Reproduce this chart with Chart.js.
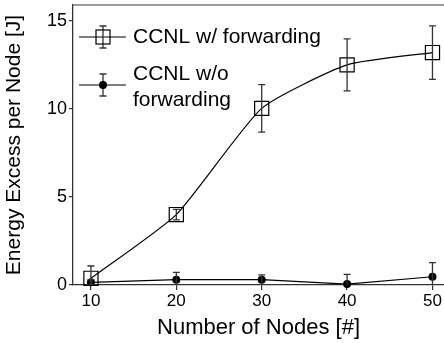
<!DOCTYPE html>
<html>
<head>
<meta charset="utf-8">
<script src="https://cdn.jsdelivr.net/npm/chart.js@4.4.1/dist/chart.umd.min.js"></script>
<style>
html,body{margin:0;padding:0;background:#fff;}
#wrap{width:444px;height:343px;position:relative;}
</style>
</head>
<body>
<div id="wrap"><canvas id="c" width="444" height="343"></canvas></div>
<script>
// ---- data ----
const nodes = [10, 20, 30, 40, 50];
const withFwd = [0.38, 4.0, 10.03, 12.5, 13.2];
const withFwdErr = [0.7, 0.3, 1.35, 1.48, 1.52];
const withoutFwd = [0.15, 0.3, 0.3, 0.05, 0.47];
const withoutFwdErr = [0.15, 0.42, 0.28, 0.55, 0.8];
const xTicks = [10, 20, 30, 40, 50];
const yTicks = [0, 5, 10, 15];
const seriesLabels = ['CCNL w/ forwarding', 'CCNL w/o\nforwarding'];

const FONT = "'Liberation Sans', Arial, sans-serif";

const errorBarPlugin = {
  id: 'errbars',
  afterDatasetsDraw(chart) {
    const ctx = chart.ctx, ys = chart.scales.y, xs = chart.scales.x, a = chart.chartArea;
    ctx.save();
    ctx.beginPath(); ctx.rect(a.left, a.top - 1, a.right - a.left, a.bottom - a.top + 1); ctx.clip();
    chart.data.datasets.forEach(ds => {
      if (!ds.errors) return;
      ctx.strokeStyle = '#333'; ctx.lineWidth = 1.3;
      ds.data.forEach((p, i) => {
        const x = xs.getPixelForValue(p.x);
        const y1 = ys.getPixelForValue(p.y + ds.errors[i]);
        const y2 = ys.getPixelForValue(p.y - ds.errors[i]);
        ctx.beginPath();
        ctx.moveTo(x, y1); ctx.lineTo(x, y2);
        ctx.moveTo(x - 3.5, y1); ctx.lineTo(x + 3.5, y1);
        ctx.moveTo(x - 3.5, y2); ctx.lineTo(x + 3.5, y2);
        ctx.stroke();
      });
    });
    ctx.restore();
  }
};

const frameLegendPlugin = {
  id: 'frameLegend',
  afterDraw(chart) {
    const ctx = chart.ctx, a = chart.chartArea;
    ctx.save();
    ctx.strokeStyle = '#777'; ctx.lineWidth = 1.3;
    ctx.beginPath(); ctx.moveTo(a.left, a.top); ctx.lineTo(a.right, a.top); ctx.stroke();
    const entryY = [a.top + 32, a.top + 80];
    chart.data.datasets.forEach((ds, i) => {
      const yc = entryY[i];
      const x0 = a.left + 6, x1 = a.left + 53, xm = a.left + 30;
      ctx.strokeStyle = '#000'; ctx.lineWidth = 1.2;
      ctx.beginPath(); ctx.moveTo(x0, yc); ctx.lineTo(x1, yc); ctx.stroke();
      ctx.strokeStyle = '#333'; ctx.lineWidth = 1.3;
      ctx.beginPath();
      ctx.moveTo(xm, yc - 11); ctx.lineTo(xm, yc + 11);
      ctx.moveTo(xm - 3.5, yc - 11); ctx.lineTo(xm + 3.5, yc - 11);
      ctx.moveTo(xm - 3.5, yc + 11); ctx.lineTo(xm + 3.5, yc + 11);
      ctx.stroke();
      if (ds.pointStyle === 'rect') {
        ctx.strokeStyle = '#000'; ctx.lineWidth = 1.2;
        ctx.strokeRect(xm - 7, yc - 7, 14, 14);
      } else {
        ctx.fillStyle = '#000';
        ctx.beginPath(); ctx.arc(xm, yc, 4, 0, Math.PI * 2); ctx.fill();
      }
      ctx.fillStyle = '#000';
      ctx.font = '21px ' + FONT;
      ctx.textBaseline = 'middle';
      const lines = ds.label.split('\n');
      lines.forEach((t, k) => {
        const ty = lines.length > 1 ? (a.top + 69 + k * 26) : yc;
        ctx.fillText(t, a.left + 60, ty);
      });
    });
    ctx.restore();
  }
};

new Chart(document.getElementById('c'), {
  type: 'line',
  data: {
    datasets: [
      {
        label: seriesLabels[0],
        data: nodes.map((x, i) => ({ x: x, y: withFwd[i] })),
        errors: withFwdErr,
        borderColor: '#000', borderWidth: 1.2,
        pointStyle: 'rect', pointRadius: 10, pointBorderWidth: 1.2,
        pointBorderColor: '#000', pointBackgroundColor: 'rgba(0,0,0,0)',
        tension: 0.18, fill: false
      },
      {
        label: seriesLabels[1],
        data: nodes.map((x, i) => ({ x: x, y: withoutFwd[i] })),
        errors: withoutFwdErr,
        borderColor: '#000', borderWidth: 1.2,
        pointStyle: 'circle', pointRadius: 4, pointBorderWidth: 0,
        pointBackgroundColor: '#000', tension: 0, fill: false
      }
    ]
  },
  options: {
    responsive: false,
    animation: false,
    clip: false,
    layout: { autoPadding: false, padding: { top: 5, right: 0, left: 0, bottom: 0 } },
    plugins: { legend: { display: false }, tooltip: { enabled: false } },
    scales: {
      x: {
        type: 'linear', min: 7.9, max: 51.35,
        afterBuildTicks: s => { s.ticks = xTicks.map(v => ({ value: v })); },
        afterFit: s => { s.height = 58; s.paddingLeft = 0; s.paddingRight = 0; },
        grid: { drawOnChartArea: false, drawTicks: true, tickLength: 5, color: '#333', lineWidth: 1.2 },
        border: { display: true, color: '#333', width: 1.3 },
        ticks: { color: '#000', font: { family: FONT, size: 17 }, padding: 1, maxRotation: 0 },
        title: { display: true, text: 'Number of Nodes [#]', color: '#000', font: { family: FONT, size: 22 }, padding: { top: 0, bottom: 2 } }
      },
      y: {
        type: 'linear', min: 0, max: 15.9,
        afterBuildTicks: s => { s.ticks = yTicks.map(v => ({ value: v })); },
        afterFit: s => { s.width = 73; s.paddingTop = 0; s.paddingBottom = 0; },
        grid: { drawOnChartArea: false, drawTicks: true, tickLength: 4, color: '#333', lineWidth: 1.2 },
        border: { display: true, color: '#333', width: 1.3 },
        ticks: { color: '#000', font: { family: FONT, size: 18 }, padding: 2 },
        title: { display: true, text: 'Energy Excess per Node [J]', color: '#000', font: { family: FONT, size: 21 }, padding: { top: 2, bottom: 0 } }
      }
    }
  },
  plugins: [errorBarPlugin, frameLegendPlugin]
});
</script>
</body>
</html>
